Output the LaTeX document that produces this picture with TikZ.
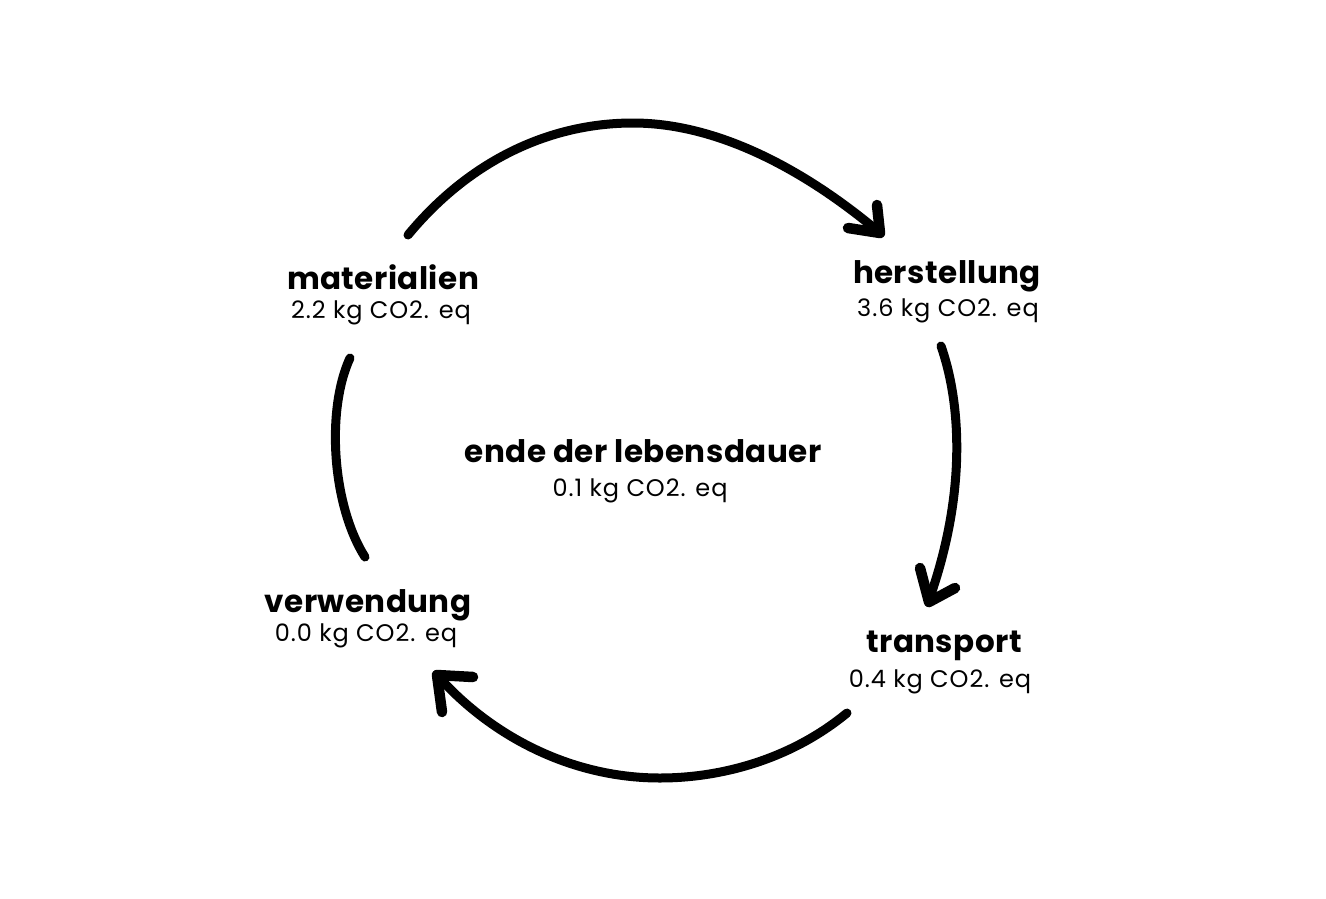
\documentclass[tikz,border=0pt]{standalone}
\usepackage{fontspec}
\setmainfont{Poppins}
\begin{document}
\begin{tikzpicture}[x=1pt,y=-1pt,
  arc/.style={line width=9pt,line cap=round,black},
  head/.style={line width=10.5pt,line cap=round,line join=round,black},
  title/.style={anchor=base,inner sep=0pt,font=\fontsize{31}{34}\selectfont\bfseries\addfontfeatures{LetterSpace=1.5}},
  value/.style={anchor=base,inner sep=0pt,font=\fontsize{24}{27}\selectfont\addfontfeatures{LetterSpace=4}}]
\useasboundingbox[fill=white] (0,0) rectangle (1326,898);

% labels
\node[title] (mat) at (383,289) {materialien};
\node[value] (matv) at (381,318) {2.2 kg CO2. eq};
\node[title] (her) at (947,283) {herstellung};
\node[value] (herv) at (948,316) {3.6 kg CO2. eq};
\node[title] (end) at (643,462) {ende der lebensdauer};
\node[value] (endv) at (640,496) {0.1 kg CO2. eq};
\node[title] (ver) at (368,612) {verwendung};
\node[value] (verv) at (366,641) {0.0 kg CO2. eq};
\node[title] (tra) at (944,652) {transport};
\node[value] (trav) at (940,687) {0.4 kg CO2. eq};

% arc end points
\coordinate (a1s) at (408,235);
\coordinate (a1m) at (633,123);
\coordinate (a1e) at (880,233);
\coordinate (a2s) at (941,346);
\coordinate (a2e) at (929,600);
\coordinate (a3s) at (847,713);
\coordinate (a3m) at (660,778);
\coordinate (a3e) at (437,675);
\coordinate (a4s) at (365,557);
\coordinate (a4e) at (350,358);

% top arc
\draw[arc] (a1s) .. controls (470,160) and (550,123) .. (a1m)
  .. controls (725,123) and (815,178) .. (a1e);
\draw[head] (877,205) -- (a1e) -- (848,228);

% right arc
\draw[arc] (a2s) .. controls (960,400) and (968,490) .. (a2e);
\draw[head] (920,568) -- (929,602) -- (955,588);

% bottom arc
\draw[arc] (a3s) .. controls (790,760) and (720,778) .. (a3m)
  .. controls (570,778) and (490,735) .. (a3e);
\draw[head] (473,677) -- (a3e) -- (442,712);

% left arc
\draw[arc] (a4s) .. controls (332,505) and (326,410) .. (a4e);
\end{tikzpicture}
\end{document}
